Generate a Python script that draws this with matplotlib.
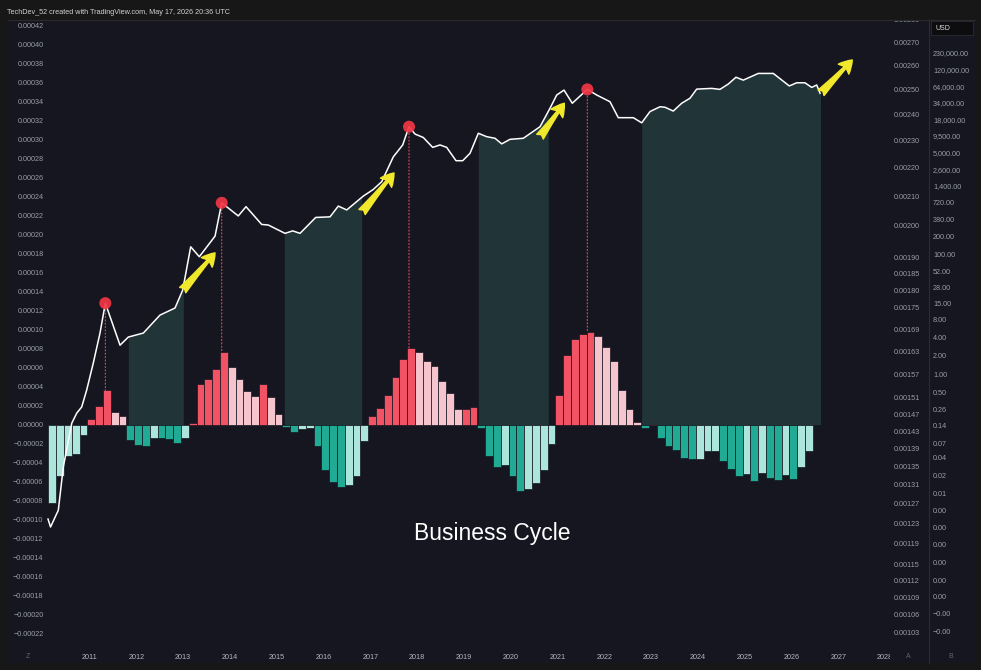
import numpy as np
import matplotlib.pyplot as plt
from matplotlib.patches import Rectangle, ConnectionPatch
from matplotlib.lines import Line2D
from matplotlib.ticker import NullLocator

plt.rcParams['font.family'] = ['Liberation Sans', 'DejaVu Sans']

# ---- data ----
TITLE = "TechDev_52 created with TradingView.com, May 17, 2026 20:36 UTC"

# histogram, bi-monthly bars, in units of 1e-5 (left scale)
BAR_START = 2010.12
HIST = [-8.19, -5.43, -3.33, -3.12, -1.12, 0.63, 1.95, 3.60, 1.30, 0.94,
        -1.65, -2.17, -2.24, -1.37, -1.40, -1.51, -1.89, -1.40, 0.21, 4.23,
        4.80, 5.84, 7.66, 6.02, 4.80, 3.50, 3.04, 4.23, 2.90, 1.08,
        -0.20, -0.77, -0.50, -0.36, -2.28, -4.80, -6.00, -6.54, -6.35, -5.40,
        -1.75, 0.91, 1.75, 3.15, 5.04, 6.86, 8.05, 7.59, 6.72, 6.20,
        4.55, 3.29, 1.61, 1.68, 1.82, -0.39, -3.33, -4.48, -4.24, -5.40,
        -6.96, -6.75, -6.16, -4.80, -2.03, 3.10, 7.35, 9.03, 9.55, 9.79,
        9.35, 8.15, 6.72, 3.67, 1.64, 0.28, -0.39, 0.05, -1.44, -2.28,
        -2.66, -3.54, -3.65, -3.62, -2.80, -2.73, -3.82, -4.69, -5.40, -5.19,
        -5.92, -5.08, -5.61, -5.77, -5.26, -5.67, -4.44, -2.77]

# white line (right "A" log scale)
LINE_X = [2010.113, 2010.167, 2010.333, 2010.440, 2010.620, 2010.726, 2010.833, 2010.940,
          2011.081, 2011.224, 2011.338, 2011.652, 2011.829, 2012.150, 2012.506, 2012.827,
          2012.991, 2013.162, 2013.346, 2013.682, 2013.825, 2014.179, 2014.344, 2014.679,
          2014.821, 2015.177, 2015.342, 2015.498, 2015.833, 2016.139, 2016.316, 2016.496,
          2016.850, 2017.064, 2017.244, 2017.491, 2017.692, 2017.827, 2017.955, 2018.132,
          2018.333, 2018.489, 2018.632, 2018.831, 2018.974, 2019.130, 2019.308, 2019.487,
          2019.665, 2019.808, 2019.985, 2020.269, 2020.626, 2020.840, 2020.983, 2021.139,
          2021.316, 2021.637, 2021.838, 2022.122, 2022.299, 2022.620, 2022.799, 2022.977,
          2023.191, 2023.297, 2023.474, 2023.654, 2023.831, 2023.974, 2024.295, 2024.472,
          2024.650, 2024.814, 2024.970, 2025.291, 2025.611, 2025.953, 2026.111, 2026.288,
          2026.432, 2026.539, 2026.610]
LINE_V = [0.001239, 0.001223, 0.001257, 0.001349, 0.001449, 0.001473, 0.001488, 0.001530,
          0.001599, 0.001679, 0.001763, 0.001646, 0.001668, 0.001679, 0.001729, 0.001749,
          0.001801, 0.001933, 0.001902, 0.001967, 0.002077, 0.002033, 0.002064, 0.002005,
          0.002003, 0.001976, 0.001984, 0.001976, 0.002028, 0.002030, 0.002066, 0.002053,
          0.002100, 0.002123, 0.002150, 0.002239, 0.002283, 0.002352, 0.002324, 0.002311,
          0.002274, 0.002283, 0.002274, 0.002225, 0.002225, 0.002252, 0.002327, 0.002314,
          0.002308, 0.002287, 0.002304, 0.002308, 0.002352, 0.002424, 0.002477, 0.002497,
          0.002444, 0.002500, 0.002477, 0.002450, 0.002387, 0.002387, 0.002367, 0.002411,
          0.002430, 0.002428, 0.002413, 0.002444, 0.002464, 0.002501, 0.002504, 0.002500,
          0.002522, 0.002550, 0.002538, 0.002566, 0.002566, 0.002514, 0.002527, 0.002527,
          0.002508, 0.002518, 0.002484]

PEAK_IDX = [10, 20, 37, 57]          # red dots on the line
PEAK_BARS = [7, 22, 46, 69]          # histogram peaks they point to
SHADE_SPANS = [(2011.829, 2013.004), (2015.162, 2016.816),
               (2019.308, 2020.803), (2022.799, 2026.62)]
ARROWS = [((2012.991, 0.001801), (2013.682, 0.001914)),
          ((2016.823, 0.002046), (2017.506, 0.002181)),
          ((2020.626, 0.002314), (2021.145, 0.002444)),
          ((2026.632, 0.002486), (2027.299, 0.002623))]

YEARS = list(range(2011, 2029))
LEFT_TICKS = np.arange(-22, 43, 2) * 1e-5
A_TICKS = [0.00280, 0.00270, 0.00260, 0.00250, 0.00240, 0.00230, 0.00220, 0.00210,
           0.00200, 0.00190, 0.00185, 0.00180, 0.00175, 0.00169, 0.00163, 0.00157,
           0.00151, 0.00147, 0.00143, 0.00139, 0.00135, 0.00131, 0.00127, 0.00123,
           0.00119, 0.00115, 0.00112, 0.00109, 0.00106, 0.00103]
B_TICKS = [230000, 120000, 64000, 34000, 18000, 9500, 5000, 2600, 1400, 720, 380, 200,
           100, 52, 28, 15, 8, 4, 2, 1, 0.5, 0.26, 0.14, 0.07, 0.04, 0.02, 0.01,
           0.0052, 0.0027, 0.0014, 0.0007, 0.00036, 0.00019, 0.0001, 0.00005]
B_LABELS = ["230,000.00", "120,000.00", "64,000.00", "34,000.00", "18,000.00",
            "9,500.00", "5,000.00", "2,600.00", "1,400.00", "720.00", "380.00",
            "200.00", "100.00", "52.00", "28.00", "15.00", "8.00", "4.00", "2.00",
            "1.00", "0.50", "0.26", "0.14", "0.07", "0.04", "0.02", "0.01",
            "0.00", "0.00", "0.00", "0.00", "0.00", "0.00", "\u22120.00", "\u22120.00"]

# ---- style ----
BG = '#151620'
FRAME = '#171717'
SHADE = '#213438'
RED, PINK = '#f25364', '#f6c4cc'
TEAL, LTEAL = '#22ab94', '#ace5dc'
TXT = '#9a9da6'
FS = 5.2

W, H = 981, 670
def fx(px): return px / W
def fy(py): return 1 - py / H

fig = plt.figure(figsize=(9.81, 6.70), dpi=100, facecolor=FRAME)
fig.add_artist(Rectangle((fx(8), fy(663)), fx(975) - fx(8), fy(20) - fy(663),
                         transform=fig.transFigure, facecolor=BG, edgecolor='none', zorder=-1))

ax = fig.add_axes([fx(46), fy(645), fx(890) - fx(46), fy(20) - fy(645)])
ax.set_facecolor(BG)
ax.set_xlim(2010.07, 2028.105)
ax.set_ylim(-0.0002316, 0.0004253)
for s in ax.spines.values():
    s.set_visible(False)

hist = np.array(HIST) * 1e-5
cols = []
for i, v in enumerate(hist):
    prev = hist[i - 1] if i > 0 else v
    if v >= 0:
        cols.append(RED if v >= prev else PINK)
    else:
        cols.append(TEAL if v < prev else LTEAL)
bar_x = BAR_START + np.arange(len(hist)) / 6
ax.bar(bar_x, hist, width=1 / 6, align='edge', color=cols, edgecolor=BG, linewidth=0.5, zorder=2)

ax.set_yticks(LEFT_TICKS)
ax.set_yticklabels([f'{v:.5f}'.replace('-', '\u2212') for v in LEFT_TICKS])
ax.tick_params(axis='y', length=0, pad=1.8, labelsize=FS, labelcolor=TXT)
ax.set_xticks(YEARS)
ax.set_xticklabels([str(y) for y in YEARS])
ax.tick_params(axis='x', length=0, pad=6.5, labelsize=FS, labelcolor='#b4b7bf')

ax.text(2019.6, -0.0001146, 'Business Cycle', ha='center', va='center',
        fontsize=16.5, color='white', zorder=5)

# right "A" log scale with the line
ax_a = ax.twinx()
ax_a.set_yscale('log')
ax_a.set_ylim(0.0010086, 0.0028)
ax_a.set_yticks(A_TICKS)
ax_a.set_yticklabels([f'{v:.5f}' for v in A_TICKS])
ax_a.yaxis.set_minor_locator(NullLocator())
ax_a.tick_params(axis='y', which='both', length=0, pad=2.5, labelsize=FS, labelcolor=TXT)
for s in ax_a.spines.values():
    s.set_visible(False)

lx = np.array(LINE_X)
lv = np.array(LINE_V)
zero_px = ax.transData.transform((2015, 0))[1]
base = ax_a.transData.inverted().transform((0, zero_px))[1]
for s, e in SHADE_SPANS:
    xs = np.r_[s, lx[(lx > s) & (lx < e)], e]
    ys = np.interp(xs, lx, lv)
    ax_a.fill_between(xs, ys, base, color=SHADE, lw=0, zorder=1)

ax_a.plot(lx, lv, color='white', lw=1.1, zorder=3)

for i, b in zip(PEAK_IDX, PEAK_BARS):
    cp = ConnectionPatch(xyA=(lx[i], lv[i]), coordsA=ax_a.transData,
                         xyB=(lx[i], hist[b]), coordsB=ax.transData,
                         color='#e04a5e', ls=(0, (1, 2)), lw=0.8, zorder=2)
    ax_a.add_artist(cp)
ax_a.scatter(lx[PEAK_IDX], lv[PEAK_IDX], s=75, color='#f23645', alpha=0.92,
             edgecolors='none', zorder=4)

for (x0, y0), (x1, y1) in ARROWS:
    ax_a.annotate('', xy=(x1, y1), xytext=(x0, y0),
                  arrowprops=dict(arrowstyle='fancy,head_length=0.7,head_width=0.8,tail_width=0.45',
                                  color='#f2e82b', mutation_scale=13, shrinkA=0, shrinkB=0),
                  zorder=4)

# "B" USD scale
ax_b = fig.add_axes([fx(929), fy(645), 0.0005, fy(20) - fy(645)])
ax_b.set_yscale('log')
ax_b.set_ylim(2.99e-5, 8.13e5)
ax_b.yaxis.tick_right()
ax_b.set_yticks(B_TICKS)
ax_b.set_yticklabels(B_LABELS)
ax_b.yaxis.set_minor_locator(NullLocator())
ax_b.tick_params(axis='y', which='both', length=0, pad=2.5, labelsize=FS, labelcolor=TXT)
ax_b.set_xticks([])
ax_b.patch.set_visible(False)
for s in ax_b.spines.values():
    s.set_visible(False)

# frame pieces
fig.add_artist(Rectangle((fx(890), fy(663)), fx(928) - fx(890), fy(646) - fy(663),
                         transform=fig.transFigure, facecolor=BG, edgecolor='none', zorder=1))
fig.add_artist(Rectangle((0, fy(19.5)), 1, 1 - fy(19.5), transform=fig.transFigure,
                         facecolor=FRAME, edgecolor='none', zorder=3))
fig.add_artist(Line2D([fx(928.5)] * 2, [fy(20), fy(663)], color='#2a2c34', lw=0.8, zorder=2))
fig.add_artist(Line2D([fx(8), fx(975)], [fy(20), fy(20)], color='#2a2a2e', lw=0.8, zorder=3))
fig.add_artist(Rectangle((fx(931), fy(35)), fx(973) - fx(931), fy(21) - fy(35),
                         transform=fig.transFigure, facecolor='#0d0d0f', edgecolor='#303034',
                         lw=0.5, zorder=4))
fig.text(fx(935), fy(28), 'USD', va='center', fontsize=5, color='#dcdcdc', zorder=5)
fig.text(fx(7), fy(12.5), TITLE, va='center', fontsize=5.2, color='#d2d2d2', zorder=5)
for lab, px in [('Z', 28), ('A', 908), ('B', 951)]:
    fig.text(fx(px), fy(657), lab, ha='center', va='center', fontsize=5, color='#62656e', zorder=5)

fig.savefig('out.png', dpi=100, facecolor=FRAME)
